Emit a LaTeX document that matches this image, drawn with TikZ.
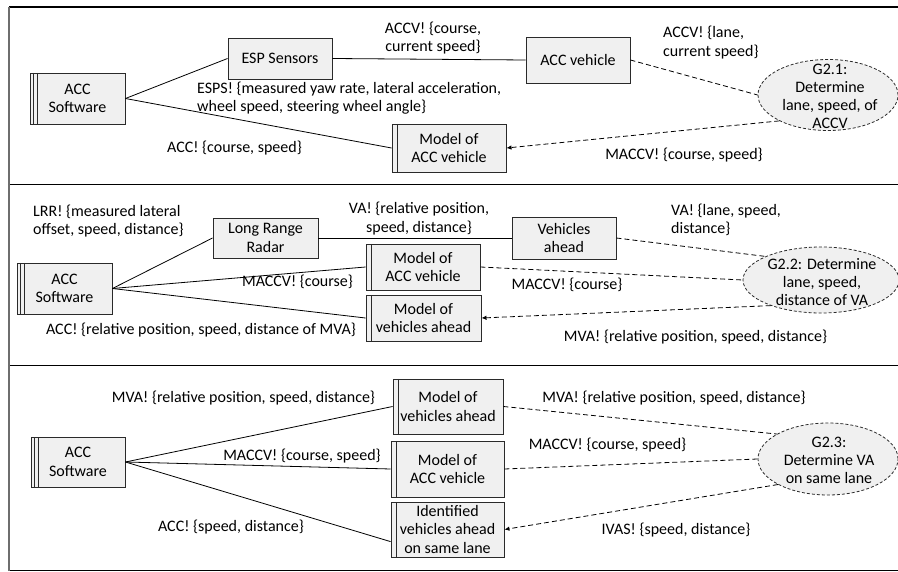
\documentclass[tikz,border=0pt]{standalone}
\usepackage{fontspec}
\setmainfont{Carlito}
\usetikzlibrary{shapes.geometric,arrows.meta}
\definecolor{boxfill}{HTML}{F0F0F0}
\definecolor{edgegray}{HTML}{2A2A2A}
\definecolor{framegray}{HTML}{6E6E6E}

\tikzset{
  every node/.style={font=\fontsize{16}{18.5}\selectfont, inner sep=1pt},
  txt/.style={align=center},
  txtl/.style={align=left, anchor=west},
  blk/.style 2 args={rectangle, draw=edgegray, line width=0.9pt, fill=boxfill,
    align=center, minimum width=#1pt, minimum height=#2pt},
  mdl/.style 2 args={blk={#1}{#2},
    path picture={\draw[edgegray, line width=0.9pt]
      ([xshift=5pt]path picture bounding box.north west) --
      ([xshift=5pt]path picture bounding box.south west);}},
  sw/.style 2 args={blk={#1}{#2},
    path picture={\draw[edgegray, line width=0.9pt]
      ([xshift=3.5pt]path picture bounding box.north west) --
      ([xshift=3.5pt]path picture bounding box.south west)
      ([xshift=7pt]path picture bounding box.north west) --
      ([xshift=7pt]path picture bounding box.south west);}},
  goal/.style 2 args={ellipse, draw=edgegray, line width=0.8pt,
    dash pattern=on 3pt off 2pt, fill=boxfill,
    minimum width=#1pt, minimum height=#2pt, inner sep=0pt},
  goaltext/.style={align=center, font=\fontsize{16}{18}\selectfont},
  link/.style={draw=black, line width=0.8pt},
  dlink/.style={link, dash pattern=on 5pt off 3pt},
  dlinkto/.style={dlink, -{Latex[length=5pt,width=4.5pt]}},
  rule/.style={draw=black, line width=1.4pt}
}

\begin{document}
\begin{tikzpicture}[x=1pt, y=-1pt]
\useasboundingbox (0,0) rectangle (898,572);

% frame and panel separators
\draw[rule] (9,7) -- (902,7);
\draw[rule] (9,184.5) -- (902,184.5);
\draw[rule] (9,365.5) -- (902,365.5);
\draw[rule] (9,570.5) -- (902,570.5);
\draw[draw=framegray, line width=1.4pt] (9,7) -- (9,571);

% ---------- G2.1 ----------
\node[sw={95}{51}]    (sw1)  at (77.5,98.5) {ACC\\Software};
\node[blk={104}{41}]  (esp)  at (280,58.5)  {ESP Sensors};
\node[blk={104}{46}]  (accv) at (578,60)    {ACC vehicle};
\node[mdl={114}{48}]  (mod1) at (449,148)   {Model of\\ACC vehicle};
\node[goal={140}{71}] (g21)  at (828,95)    {};
\node[goaltext] (g21t) at (830,96) {G2.1:\\Determine\\lane, speed, of\\ACCV};

\draw[link] (sw1.east) -- (esp.west);
\draw[link] (sw1.east) -- (mod1.west);
\draw[link] (esp.east) -- (accv.west);
\draw[dlink] (accv.east) -- (g21.west);
\draw[dlinkto] (g21.208) -- (mod1.east);

\node[txt]  (l11) at (433,38)   {ACCV! \{course,\\current speed\}};
\node[txtl] (l12) at (662,42.5) {ACCV! \{lane,\\current speed\}};
\node[txtl] (l13) at (196,98)   {ESPS! \{measured yaw rate, lateral acceleration,\\wheel speed, steering wheel angle\}};
\node[txt]  (l14) at (234.5,148) {ACC! \{course, speed\}};
\node[txt]  (l15) at (684,155)  {MACCV! \{course, speed\}};

% ---------- G2.2 ----------
\node[sw={95}{51}]    (sw2)  at (64.5,288.5) {ACC\\Software};
\node[blk={105}{40}]  (lrr)  at (265.5,238)  {Long Range\\Radar};
\node[blk={104}{42}]  (vah)  at (564,238)    {Vehicles\\ahead};
\node[mdl={114}{46}]  (mod2a) at (423,267)   {Model of\\ACC vehicle};
\node[mdl={115}{46}]  (mod2b) at (423.5,318) {Model of\\vehicles ahead};
\node[goal={156}{66}] (g22)  at (821,280)    {};
\node[goaltext] (g22t) at (822,282) {G2.2: Determine\\lane, speed,\\distance of VA};

\draw[link] (sw2.east) -- (lrr.west);
\draw[link] (sw2.east) -- (mod2a.west);
\draw[link] (sw2.east) -- (mod2b.west);
\draw[link] (lrr.east) -- (vah.west);
\draw[dlink] (vah.east) -- (g22.157);
\draw[dlink] (mod2a.east) -- (g22.west);
\draw[dlinkto] (g22.207) -- (mod2b.east);

\node[txtl] (l21) at (32,221)    {LRR! \{measured lateral\\offset, speed, distance\}};
\node[txt]  (l22) at (419,218.5) {VA! \{relative position,\\speed, distance\}};
\node[txtl] (l23) at (670,220)   {VA! \{lane, speed,\\distance\}};
\node[txt]  (l24) at (297.5,282) {MACCV! \{course\}};
\node[txt]  (l25) at (567,285)   {MACCV! \{course\}};
\node[txt]  (l26) at (201,330)   {ACC! \{relative position, speed, distance of MVA\}};
\node[txt]  (l27) at (695.5,337) {MVA! \{relative position, speed, distance\}};

% ---------- G2.3 ----------
\node[sw={94}{50}]    (sw3)   at (78,462)      {ACC\\Software};
\node[mdl={110}{55}]  (mod3a) at (448,406.5)   {Model of\\vehicles ahead};
\node[mdl={113}{56}]  (mod3b) at (447.5,469)   {Model of\\ACC vehicle};
\node[mdl={113}{55}]  (ident) at (447.5,529.5) {Identified\\vehicles ahead\\on same lane};
\node[goal={140}{72}] (g23)   at (828,459)     {};
\node[goaltext] (g23t) at (829,460) {G2.3:\\Determine VA\\on same lane};

\draw[link] (sw3.east) -- (mod3a.west);
\draw[link] (sw3.east) -- (mod3b.west);
\draw[link] (sw3.east) -- (ident.192);
\draw[dlink] (mod3a.east) -- (g23.154);
\draw[dlink] (mod3b.east) -- (g23.west);
\draw[dlinkto] (g23.207) -- (ident.east);

\node[txt] (l31) at (243.5,398) {MVA! \{relative position, speed, distance\}};
\node[txt] (l32) at (674,398)   {MVA! \{relative position, speed, distance\}};
\node[txt] (l33) at (302,456)   {MACCV! \{course, speed\}};
\node[txt] (l34) at (607.5,445) {MACCV! \{course, speed\}};
\node[txt] (l35) at (231,527)   {ACC! \{speed, distance\}};
\node[txt] (l36) at (676,530)   {IVAS! \{speed, distance\}};
\end{tikzpicture}
\end{document}
